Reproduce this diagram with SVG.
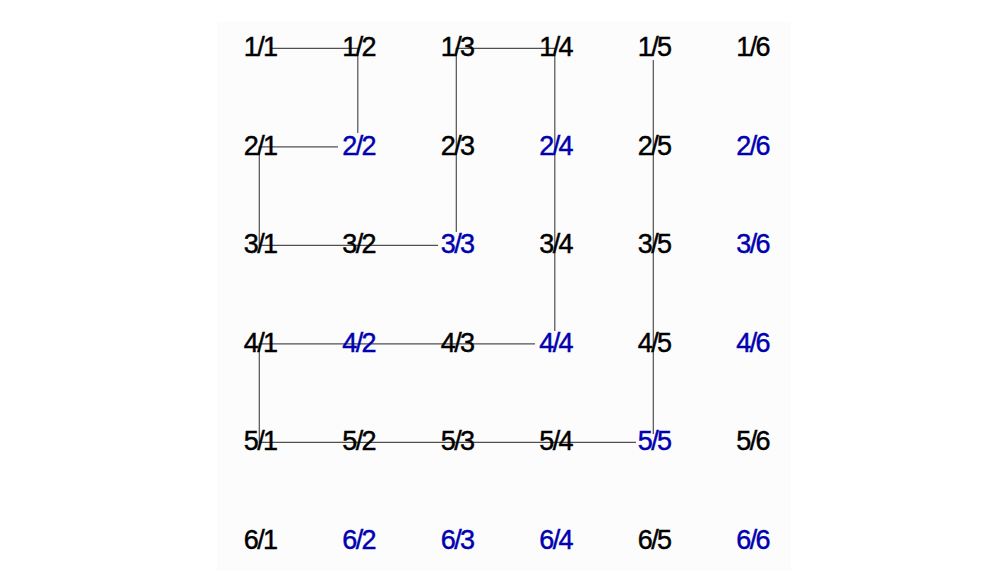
<svg xmlns="http://www.w3.org/2000/svg" width="1000" height="588" viewBox="0 0 1000 588">
<style>
text{font-family:"Liberation Sans",Arial,sans-serif;font-size:27px;letter-spacing:-1.6px;text-anchor:middle;stroke-width:0.45px}
.k{fill:#000;stroke:#000}
.b{fill:#0000b0;stroke:#0000b0}
.c{fill:none;stroke:#505050;stroke-width:1.2}
</style>
<rect width="1000" height="588" fill="#fff"/>
<rect x="217" y="22" width="574" height="549" fill="#fcfcfc"/>
<g id="connectors">
<path class="c" d="M270,48.3H357.8V133 M338,146.8H259.3V245.3H438 M456.3,232V48.3H554.8V331 M535,343.8H259.3V442.3H636 M653.3,434V60"/>
</g>
<g id="n1-1"><text class="k" x="260.1" y="56">1/1</text></g>
<g id="n1-2"><text class="k" x="358.6" y="56">1/2</text></g>
<g id="n1-3"><text class="k" x="457.1" y="56">1/3</text></g>
<g id="n1-4"><text class="k" x="555.6" y="56">1/4</text></g>
<g id="n1-5"><text class="k" x="654.1" y="56">1/5</text></g>
<g id="n1-6"><text class="k" x="752.6" y="56">1/6</text></g>
<g id="n2-1"><text class="k" x="260.1" y="154.5">2/1</text></g>
<g id="n2-2"><text class="b" x="358.6" y="154.5">2/2</text></g>
<g id="n2-3"><text class="k" x="457.1" y="154.5">2/3</text></g>
<g id="n2-4"><text class="b" x="555.6" y="154.5">2/4</text></g>
<g id="n2-5"><text class="k" x="654.1" y="154.5">2/5</text></g>
<g id="n2-6"><text class="b" x="752.6" y="154.5">2/6</text></g>
<g id="n3-1"><text class="k" x="260.1" y="253">3/1</text></g>
<g id="n3-2"><text class="k" x="358.6" y="253">3/2</text></g>
<g id="n3-3"><text class="b" x="457.1" y="253">3/3</text></g>
<g id="n3-4"><text class="k" x="555.6" y="253">3/4</text></g>
<g id="n3-5"><text class="k" x="654.1" y="253">3/5</text></g>
<g id="n3-6"><text class="b" x="752.6" y="253">3/6</text></g>
<g id="n4-1"><text class="k" x="260.1" y="351.5">4/1</text></g>
<g id="n4-2"><text class="b" x="358.6" y="351.5">4/2</text></g>
<g id="n4-3"><text class="k" x="457.1" y="351.5">4/3</text></g>
<g id="n4-4"><text class="b" x="555.6" y="351.5">4/4</text></g>
<g id="n4-5"><text class="k" x="654.1" y="351.5">4/5</text></g>
<g id="n4-6"><text class="b" x="752.6" y="351.5">4/6</text></g>
<g id="n5-1"><text class="k" x="260.1" y="450">5/1</text></g>
<g id="n5-2"><text class="k" x="358.6" y="450">5/2</text></g>
<g id="n5-3"><text class="k" x="457.1" y="450">5/3</text></g>
<g id="n5-4"><text class="k" x="555.6" y="450">5/4</text></g>
<g id="n5-5"><text class="b" x="654.1" y="450">5/5</text></g>
<g id="n5-6"><text class="k" x="752.6" y="450">5/6</text></g>
<g id="n6-1"><text class="k" x="260.1" y="548.5">6/1</text></g>
<g id="n6-2"><text class="b" x="358.6" y="548.5">6/2</text></g>
<g id="n6-3"><text class="b" x="457.1" y="548.5">6/3</text></g>
<g id="n6-4"><text class="b" x="555.6" y="548.5">6/4</text></g>
<g id="n6-5"><text class="k" x="654.1" y="548.5">6/5</text></g>
<g id="n6-6"><text class="b" x="752.6" y="548.5">6/6</text></g>
</svg>
